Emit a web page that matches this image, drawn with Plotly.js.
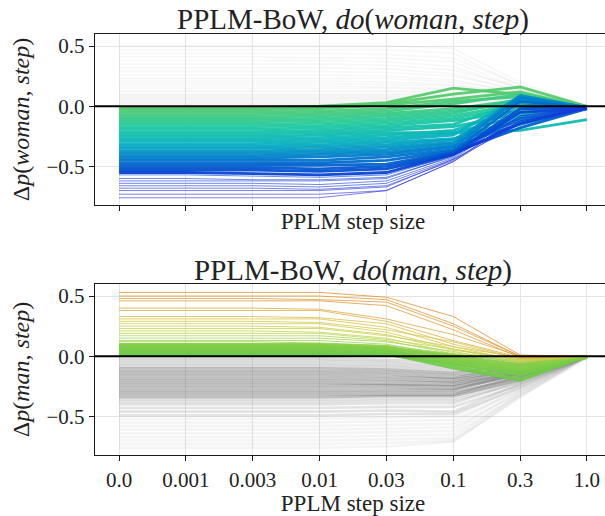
<!DOCTYPE html>
<html><head><meta charset="utf-8">
<script src="https://cdn.plot.ly/plotly-3.0.1.min.js"></script>
<style>html,body{margin:0;padding:0;overflow:hidden;background:#fff}#chart{width:620px;height:516px}</style>
</head><body><div id="chart"></div><script>
// x categories (PPLM step size)
const stepSizes = ['0.0','0.001','0.003','0.01','0.03','0.1','0.3','1.0'];

// Top panel: do(woman, step) — coloured (negative) lines
const womanColored = [
[-0.01,-0.01,-0.01,0.00,0.03,0.15,0.10,0.00],
[-0.02,-0.02,-0.02,-0.01,0.02,0.10,0.16,0.00],
[-0.03,-0.03,-0.03,-0.02,0.01,0.06,0.12,-0.01],
[-0.05,-0.05,-0.05,-0.04,-0.02,0.04,0.08,-0.01],
[-0.07,-0.07,-0.07,-0.06,-0.04,0.02,0.10,-0.01],
[-0.09,-0.09,-0.09,-0.08,-0.06,-0.02,0.05,-0.01],
[-0.11,-0.11,-0.11,-0.10,-0.08,-0.04,0.03,-0.02],
[-0.13,-0.13,-0.13,-0.12,-0.10,-0.06,0.06,-0.01],
[-0.15,-0.15,-0.15,-0.14,-0.12,-0.08,0.02,-0.01],
[-0.17,-0.17,-0.17,-0.16,-0.14,-0.10,0.00,-0.02],
[-0.19,-0.19,-0.19,-0.18,-0.16,-0.12,-0.04,-0.01],
[-0.21,-0.21,-0.21,-0.20,-0.18,-0.15,0.04,-0.01],
[-0.23,-0.23,-0.23,-0.22,-0.20,-0.17,-0.06,-0.02],
[-0.25,-0.25,-0.25,-0.24,-0.22,-0.22,-0.20,-0.11],
[-0.27,-0.27,-0.27,-0.26,-0.24,-0.20,-0.02,-0.01],
[-0.29,-0.29,-0.29,-0.28,-0.26,-0.22,-0.08,-0.02],
[-0.31,-0.31,-0.31,-0.30,-0.28,-0.24,0.08,-0.01],
[-0.33,-0.33,-0.33,-0.32,-0.30,-0.27,-0.10,-0.02],
[-0.35,-0.35,-0.35,-0.34,-0.32,-0.28,0.05,-0.01],
[-0.37,-0.37,-0.37,-0.36,-0.34,-0.30,-0.12,-0.02],
[-0.39,-0.39,-0.39,-0.38,-0.36,-0.31,0.09,-0.01],
[-0.41,-0.41,-0.41,-0.40,-0.38,-0.33,-0.15,-0.02],
[-0.43,-0.43,-0.43,-0.42,-0.40,-0.34,0.07,-0.01],
[-0.45,-0.45,-0.45,-0.45,-0.42,-0.36,-0.10,-0.02],
[-0.47,-0.47,-0.47,-0.47,-0.45,-0.37,0.04,-0.01],
[-0.49,-0.49,-0.49,-0.49,-0.48,-0.38,-0.18,-0.02],
[-0.51,-0.51,-0.51,-0.52,-0.50,-0.39,-0.02,-0.01],
[-0.53,-0.53,-0.53,-0.54,-0.52,-0.40,-0.05,-0.02],
[-0.55,-0.55,-0.56,-0.57,-0.55,-0.40,-0.14,-0.01],
[-0.57,-0.57,-0.58,-0.59,-0.57,-0.41,-0.08,-0.02],
[-0.60,-0.60,-0.61,-0.61,-0.59,-0.42,0.02,-0.01],
[-0.62,-0.62,-0.62,-0.62,-0.60,-0.41,-0.12,-0.02],
[-0.64,-0.64,-0.64,-0.65,-0.62,-0.43,-0.03,-0.01],
[-0.66,-0.66,-0.66,-0.67,-0.64,-0.44,-0.15,-0.02],
[-0.68,-0.68,-0.68,-0.69,-0.66,-0.45,-0.10,-0.02],
[-0.70,-0.70,-0.70,-0.70,-0.67,-0.44,-0.05,-0.01],
[-0.73,-0.73,-0.73,-0.73,-0.70,-0.46,-0.12,-0.02],
[-0.76,-0.76,-0.76,-0.76,-0.70,-0.46,-0.08,-0.01]
];

// Top panel: faint grey (positive) lines
const womanGray = [
[0.50,0.50,0.50,0.50,0.50,0.48,0.20,0.00],
[0.47,0.47,0.47,0.47,0.47,0.44,0.17,0.00],
[0.44,0.44,0.44,0.44,0.43,0.40,0.18,0.00],
[0.41,0.41,0.41,0.40,0.40,0.37,0.15,0.00],
[0.38,0.38,0.38,0.38,0.37,0.33,0.14,0.00],
[0.35,0.35,0.35,0.35,0.34,0.30,0.16,0.00],
[0.32,0.32,0.32,0.32,0.31,0.27,0.12,0.00],
[0.29,0.29,0.29,0.29,0.28,0.25,0.14,0.00],
[0.26,0.26,0.26,0.26,0.25,0.22,0.11,0.00],
[0.23,0.23,0.23,0.23,0.23,0.20,0.13,0.00],
[0.21,0.21,0.21,0.21,0.20,0.18,0.10,0.00],
[0.19,0.19,0.19,0.19,0.18,0.17,0.12,0.00],
[0.17,0.17,0.17,0.17,0.16,0.15,0.09,0.00],
[0.15,0.15,0.15,0.15,0.15,0.14,0.11,0.00],
[0.13,0.13,0.13,0.13,0.13,0.12,0.08,0.00],
[0.12,0.12,0.12,0.12,0.12,0.11,0.10,0.00],
[0.10,0.10,0.10,0.10,0.10,0.10,0.07,0.00],
[0.09,0.09,0.09,0.09,0.09,0.09,0.09,0.00],
[0.08,0.08,0.08,0.08,0.08,0.08,0.06,0.00],
[0.07,0.07,0.07,0.07,0.07,0.07,0.08,0.00],
[0.06,0.06,0.06,0.06,0.06,0.06,0.05,0.00],
[0.05,0.05,0.05,0.05,0.05,0.05,0.07,0.00],
[0.04,0.04,0.04,0.04,0.04,0.04,0.04,0.00],
[0.03,0.03,0.03,0.03,0.03,0.04,0.06,0.00],
[0.02,0.02,0.02,0.02,0.02,0.03,0.03,0.00],
[0.01,0.01,0.01,0.01,0.01,0.02,0.04,0.00]
];

// Bottom panel: do(man, step) — coloured (positive) lines
const manColored = [
[0.53,0.53,0.53,0.53,0.49,0.33,0.01,0.00],
[0.50,0.50,0.50,0.50,0.47,0.27,0.00,0.00],
[0.48,0.48,0.48,0.47,0.45,0.25,0.00,0.00],
[0.46,0.46,0.46,0.46,0.42,0.22,-0.01,0.00],
[0.40,0.40,0.40,0.39,0.31,0.18,0.00,0.00],
[0.38,0.38,0.38,0.38,0.29,0.13,-0.01,0.00],
[0.33,0.33,0.33,0.32,0.27,0.10,-0.02,0.00],
[0.31,0.31,0.31,0.31,0.24,0.08,-0.01,0.00],
[0.29,0.29,0.29,0.28,0.22,0.12,-0.02,0.00],
[0.27,0.27,0.27,0.27,0.20,0.06,-0.03,0.00],
[0.25,0.25,0.25,0.24,0.18,0.05,-0.02,0.00],
[0.23,0.23,0.23,0.23,0.17,0.08,-0.04,0.00],
[0.21,0.21,0.21,0.20,0.15,0.03,-0.03,0.00],
[0.19,0.19,0.19,0.19,0.14,0.06,-0.05,0.00],
[0.17,0.17,0.17,0.17,0.13,0.02,-0.04,0.00],
[0.15,0.15,0.15,0.15,0.12,0.04,-0.06,0.00],
[0.13,0.13,0.13,0.13,0.10,0.00,-0.08,0.00],
[0.12,0.12,0.12,0.11,0.09,0.02,-0.05,0.00],
[0.10,0.10,0.10,0.10,0.08,-0.02,-0.10,0.00],
[0.09,0.09,0.09,0.09,0.07,0.01,-0.07,-0.01],
[0.08,0.08,0.08,0.08,0.07,-0.04,-0.12,0.00],
[0.07,0.07,0.07,0.07,0.06,0.00,-0.09,-0.01],
[0.06,0.06,0.06,0.06,0.05,-0.06,-0.15,0.00],
[0.05,0.05,0.05,0.05,0.04,-0.02,-0.11,-0.01],
[0.04,0.04,0.04,0.04,0.04,-0.08,-0.19,0.00],
[0.03,0.03,0.03,0.03,0.03,-0.04,-0.13,-0.01],
[0.02,0.02,0.02,0.02,0.02,-0.10,-0.20,0.00],
[0.01,0.01,0.01,0.01,0.01,-0.06,-0.16,-0.01]
];

// Bottom panel: grey (negative) lines
const manGray = [
[-0.02,-0.02,-0.02,-0.02,-0.03,-0.05,-0.03,0.00],
[-0.04,-0.04,-0.04,-0.04,-0.05,-0.08,-0.06,0.00],
[-0.06,-0.06,-0.06,-0.06,-0.07,-0.10,-0.05,0.00],
[-0.08,-0.08,-0.08,-0.08,-0.09,-0.12,-0.08,0.00],
[-0.10,-0.10,-0.10,-0.10,-0.11,-0.14,-0.07,0.00],
[-0.12,-0.12,-0.12,-0.12,-0.13,-0.16,-0.10,0.00],
[-0.14,-0.14,-0.14,-0.14,-0.15,-0.18,-0.09,0.00],
[-0.16,-0.16,-0.16,-0.16,-0.17,-0.19,-0.12,0.00],
[-0.18,-0.18,-0.18,-0.18,-0.19,-0.21,-0.11,0.00],
[-0.20,-0.20,-0.20,-0.20,-0.21,-0.22,-0.14,0.00],
[-0.22,-0.22,-0.22,-0.22,-0.23,-0.24,-0.13,0.00],
[-0.24,-0.24,-0.24,-0.24,-0.24,-0.25,-0.15,0.00],
[-0.26,-0.26,-0.26,-0.26,-0.26,-0.27,-0.16,0.00],
[-0.28,-0.28,-0.28,-0.28,-0.28,-0.28,-0.14,0.00],
[-0.30,-0.30,-0.30,-0.30,-0.30,-0.30,-0.18,0.00],
[-0.32,-0.32,-0.32,-0.32,-0.32,-0.32,-0.17,0.00],
[-0.34,-0.34,-0.34,-0.34,-0.33,-0.33,-0.20,0.00],
[-0.36,-0.36,-0.36,-0.36,-0.35,-0.35,-0.19,0.00],
[-0.38,-0.38,-0.38,-0.38,-0.37,-0.37,-0.22,0.00],
[-0.40,-0.40,-0.40,-0.40,-0.39,-0.39,-0.21,0.00],
[-0.43,-0.43,-0.43,-0.43,-0.42,-0.42,-0.24,0.00],
[-0.46,-0.46,-0.46,-0.46,-0.45,-0.46,-0.23,0.00],
[-0.49,-0.49,-0.49,-0.49,-0.48,-0.48,-0.26,0.00],
[-0.52,-0.52,-0.52,-0.52,-0.51,-0.50,-0.25,-0.01],
[-0.55,-0.55,-0.55,-0.55,-0.54,-0.53,-0.28,0.00],
[-0.58,-0.58,-0.58,-0.58,-0.57,-0.56,-0.27,0.00],
[-0.61,-0.61,-0.61,-0.61,-0.60,-0.59,-0.30,0.00],
[-0.64,-0.64,-0.64,-0.64,-0.63,-0.62,-0.29,-0.01],
[-0.67,-0.67,-0.67,-0.67,-0.66,-0.65,-0.32,0.00],
[-0.70,-0.70,-0.70,-0.70,-0.69,-0.68,-0.31,0.00],
[-0.73,-0.73,-0.73,-0.73,-0.72,-0.70,-0.34,0.00],
[-0.76,-0.76,-0.76,-0.76,-0.75,-0.71,-0.33,-0.02]
];

// colour maps (value at step 0 -> colour)
const womanCmap = [[-0.76,'#2b2be6'],[-0.56,'#0640d2'],[-0.44,'#0078cc'],[-0.32,'#06b0c0'],[-0.18,'#1cc8a2'],[0.0,'#5ccb68']];
const manCmap = [[0.0,'#66c84a'],[0.1,'#84cd46'],[0.2,'#bcd646'],[0.3,'#d6c23c'],[0.42,'#dca034'],[0.53,'#e08a28']];

function hexRgb(h){return [parseInt(h.slice(1,3),16),parseInt(h.slice(3,5),16),parseInt(h.slice(5,7),16)];}
function cmap(stops,v,a){
  if(v<=stops[0][0]) {const c=hexRgb(stops[0][1]);return `rgba(${c},${a})`;}
  for(let i=1;i<stops.length;i++){
    if(v<=stops[i][0]){
      const t=(v-stops[i-1][0])/(stops[i][0]-stops[i-1][0]);
      const c0=hexRgb(stops[i-1][1]),c1=hexRgb(stops[i][1]);
      const c=c0.map((x,k)=>Math.round(x+(c1[k]-x)*t));
      return `rgba(${c.join(',')},${a})`;
    }
  }
  const c=hexRgb(stops[stops.length-1][1]);return `rgba(${c},${a})`;
}

const traces=[];
function add(vals,color,width,ax){
  traces.push({type:'scatter',mode:'lines',x:stepSizes,y:vals,xaxis:ax[0],yaxis:ax[1],
    line:{color:color,width:width},showlegend:false,hoverinfo:'skip'});
}
womanGray.forEach(r=>add(r,'rgba(150,150,150,0.08)',1.6,['x','y']));
womanColored.forEach(r=>{
  const dense=r[0]>-0.565;
  add(r,cmap(womanCmap,r[0],dense?0.95:0.6),dense?2.8:1,['x','y']);
});
manGray.forEach(r=>{
  const v=r[0];
  const a = v>-0.1?0.25:(v>-0.35?0.45:(v>-0.5?0.2:0.08));
  add(r,`rgba(115,115,115,${a})`,2.6,['x2','y2']);
});
manColored.slice().sort((a,b)=>a[0]-b[0]).forEach(r=>{
  const dense=r[0]<=0.105;
  add(r,cmap(manCmap,r[0],dense?0.9:0.75),dense?2.6:1,['x2','y2']);
});

const FONT='Liberation Serif';
const xBase={type:'category',range:[-0.36,7.36],showgrid:true,gridcolor:'#e4e4e4',gridwidth:1,
  showline:true,mirror:true,linecolor:'#1a1a1a',linewidth:1.3,ticks:'outside',ticklen:5,tickcolor:'#1a1a1a',
  tickfont:{family:FONT,size:21,color:'#222'},zeroline:false,fixedrange:true};
const yBase={range:[-0.82,0.6],tickvals:[-0.5,0,0.5],tickformat:'.1f',showgrid:true,gridcolor:'#e4e4e4',gridwidth:1,
  showline:true,mirror:true,linecolor:'#1a1a1a',linewidth:1.3,ticks:'outside',ticklen:5,tickcolor:'#1a1a1a',
  tickfont:{family:FONT,size:21,color:'#222'},zeroline:false,fixedrange:true};

const layout={
  width:620,height:516,margin:{l:95,r:9,t:34,b:61},paper_bgcolor:'#fff',plot_bgcolor:'#fff',
  font:{family:FONT,color:'#222'},
  xaxis:Object.assign({},xBase,{anchor:'y',showticklabels:false,
    title:{text:'PPLM step size',font:{family:FONT,size:23,color:'#222'},standoff:2}}),
  yaxis:Object.assign({},yBase,{domain:[0.5938,1],anchor:'x',
    title:{text:'Δ<i>p</i>(<i>woman</i>, <i>step</i>)',font:{family:FONT,size:24,color:'#222'},standoff:10}}),
  xaxis2:Object.assign({},xBase,{anchor:'y2',
    title:{text:'PPLM step size',font:{family:FONT,size:23,color:'#222'},standoff:0}}),
  yaxis2:Object.assign({},yBase,{domain:[0,0.4062],anchor:'x2',
    title:{text:'Δ<i>p</i>(<i>man</i>, <i>step</i>)',font:{family:FONT,size:24,color:'#222'},standoff:10}}),
  shapes:[
    {type:'line',xref:'x domain',yref:'y',x0:0,x1:1,y0:0,y1:0,line:{color:'#000',width:2},layer:'above'},
    {type:'line',xref:'x2 domain',yref:'y2',x0:0,x1:1,y0:0,y1:0,line:{color:'#000',width:2},layer:'above'}
  ],
  annotations:[
    {text:'PPLM-BoW, <i>do</i>(<i>woman</i>, <i>step</i>)',xref:'paper',yref:'paper',x:0.5,y:1.0356,
      xanchor:'center',yanchor:'middle',showarrow:false,font:{family:FONT,size:29,color:'#222'}},
    {text:'PPLM-BoW, <i>do</i>(<i>man</i>, <i>step</i>)',xref:'paper',yref:'paper',x:0.5,y:0.4394,
      xanchor:'center',yanchor:'middle',showarrow:false,font:{family:FONT,size:29,color:'#222'}}
  ],
  hovermode:false
};
Plotly.newPlot('chart',traces,layout,{staticPlot:true,displayModeBar:false});
</script></body></html>
